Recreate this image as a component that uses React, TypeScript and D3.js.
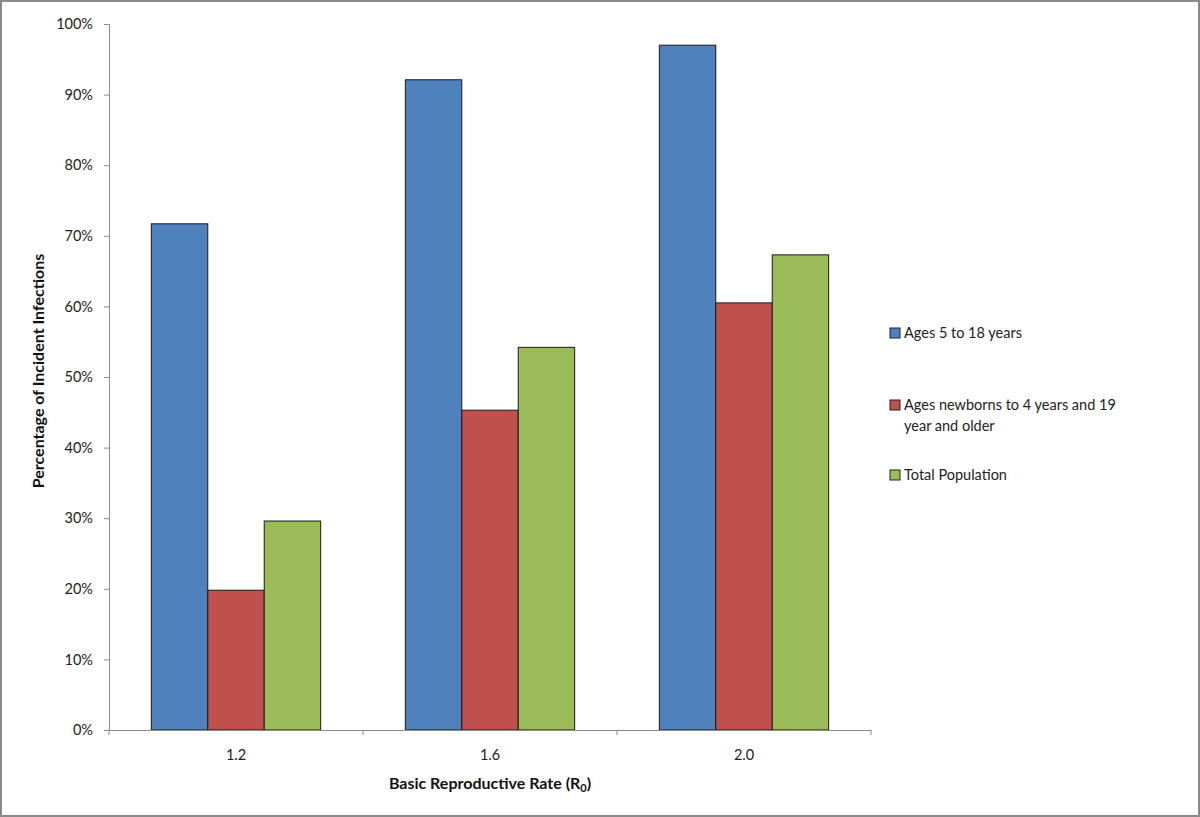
import * as d3 from "d3";
import React, { useEffect, useRef } from "react";

const categories = ["1.2", "1.6", "2.0"];
const seriesNames = [
  "Ages 5 to 18 years",
  "Ages newborns to 4 years and 19 year and older",
  "Total Population",
];
const school = [71.7, 92.1, 97.0];
const others = [19.8, 45.3, 60.5];
const total = [29.6, 54.2, 67.3];
const yTicks = [0, 10, 20, 30, 40, 50, 60, 70, 80, 90, 100];
const colors = ["#4F81BD", "#C0504D", "#9BBB59"];

const W = 1200;
const H = 817;
const FONT = "Lato, 'Open Sans', sans-serif";

const App: React.FC = () => {
  const ref = useRef<SVGSVGElement>(null);

  useEffect(() => {
    document.body.style.margin = "0";
    if (!ref.current) return;
    const svg = d3.select(ref.current);
    svg.selectAll("*").remove();

    const left = 109;
    const right = 871;
    const top = 24;
    const bottom = 730;

    svg
      .append("rect")
      .attr("x", 1)
      .attr("y", 1)
      .attr("width", W - 2)
      .attr("height", H - 2)
      .attr("fill", "white")
      .attr("stroke", "#8a8a8a")
      .attr("stroke-width", 2);

    const x = d3.scaleBand().domain(categories).range([left, right]).padding(0);
    const y = d3.scaleLinear().domain([0, 100]).range([bottom, top]);
    const inner = d3
      .scaleBand()
      .domain(seriesNames)
      .range([0, x.bandwidth()])
      .paddingInner(0)
      .paddingOuter(0.75);

    const series = [school, others, total];

    // y axis
    const yAxis = svg
      .append("g")
      .attr("transform", `translate(${left},0)`)
      .call(
        d3
          .axisLeft(y)
          .tickValues(yTicks)
          .tickSize(5)
          .tickPadding(11)
          .tickFormat((d) => `${d}%`)
      );
    yAxis.select(".domain").attr("stroke", "#8c8c8c");
    yAxis.selectAll("line").attr("stroke", "#8c8c8c");
    yAxis
      .selectAll("text")
      .attr("font-family", FONT)
      .attr("font-size", 14.5)
      .attr("fill", "#222");

    // bars
    series.forEach((vals, si) => {
      svg
        .append("g")
        .selectAll("rect")
        .data(vals)
        .enter()
        .append("rect")
        .attr("x", (_, i) => (x(categories[i]) ?? 0) + (inner(seriesNames[si]) ?? 0))
        .attr("y", (d) => y(d))
        .attr("width", inner.bandwidth())
        .attr("height", (d) => bottom - y(d))
        .attr("fill", colors[si])
        .attr("stroke", "#1a1a1a")
        .attr("stroke-width", 1);
    });

    // x axis
    const xAxis = svg
      .append("g")
      .attr("transform", `translate(0,${bottom})`)
      .call(d3.axisBottom(x).tickSize(0).tickPadding(20).tickSizeOuter(0));
    xAxis.select(".domain").attr("stroke", "#8c8c8c");
    xAxis
      .selectAll("text")
      .attr("font-family", FONT)
      .attr("font-size", 14.5)
      .attr("fill", "#222");
    const xTickPos = [left, ...categories.map((c) => (x(c) ?? 0) + x.bandwidth())];
    svg
      .append("g")
      .selectAll("line")
      .data(xTickPos)
      .enter()
      .append("line")
      .attr("x1", (d) => d)
      .attr("x2", (d) => d)
      .attr("y1", bottom)
      .attr("y2", bottom + 5)
      .attr("stroke", "#8c8c8c");

    // axis titles
    const xt = svg
      .append("text")
      .attr("x", (left + right) / 2)
      .attr("y", 789)
      .attr("text-anchor", "middle")
      .attr("font-family", FONT)
      .attr("font-size", 16)
      .attr("font-weight", "bold")
      .attr("fill", "#111");
    xt.append("tspan").text("Basic Reproductive Rate (R");
    xt.append("tspan").attr("font-size", 11).attr("dy", 3).text("0");
    xt.append("tspan").attr("dy", -3).text(")");

    svg
      .append("text")
      .attr("transform", `translate(44,${371}) rotate(-90)`)
      .attr("text-anchor", "middle")
      .attr("font-family", FONT)
      .attr("font-size", 16)
      .attr("font-weight", "bold")
      .attr("fill", "#111")
      .text("Percentage of Incident Infections");

    // legend
    const legendItems = [
      { lines: ["Ages 5 to 18 years"], y: 333 },
      { lines: ["Ages newborns to 4 years and 19", "year and older"], y: 405 },
      { lines: ["Total Population"], y: 475 },
    ];
    const lg = svg.append("g");
    legendItems.forEach((it, i) => {
      lg.append("rect")
        .attr("x", 890)
        .attr("y", it.y - 5)
        .attr("width", 10)
        .attr("height", 10)
        .attr("fill", colors[i])
        .attr("stroke", "#222")
        .attr("stroke-width", 1);
      it.lines.forEach((ln, j) => {
        lg.append("text")
          .attr("x", 904)
          .attr("y", it.y + j * 21)
          .attr("dy", "0.35em")
          .attr("font-family", FONT)
          .attr("font-size", 14.5)
          .attr("fill", "#222")
          .text(ln);
      });
    });
  }, []);

  return <svg ref={ref} width={W} height={H} style={{ display: "block" }} />;
};

export default App;
